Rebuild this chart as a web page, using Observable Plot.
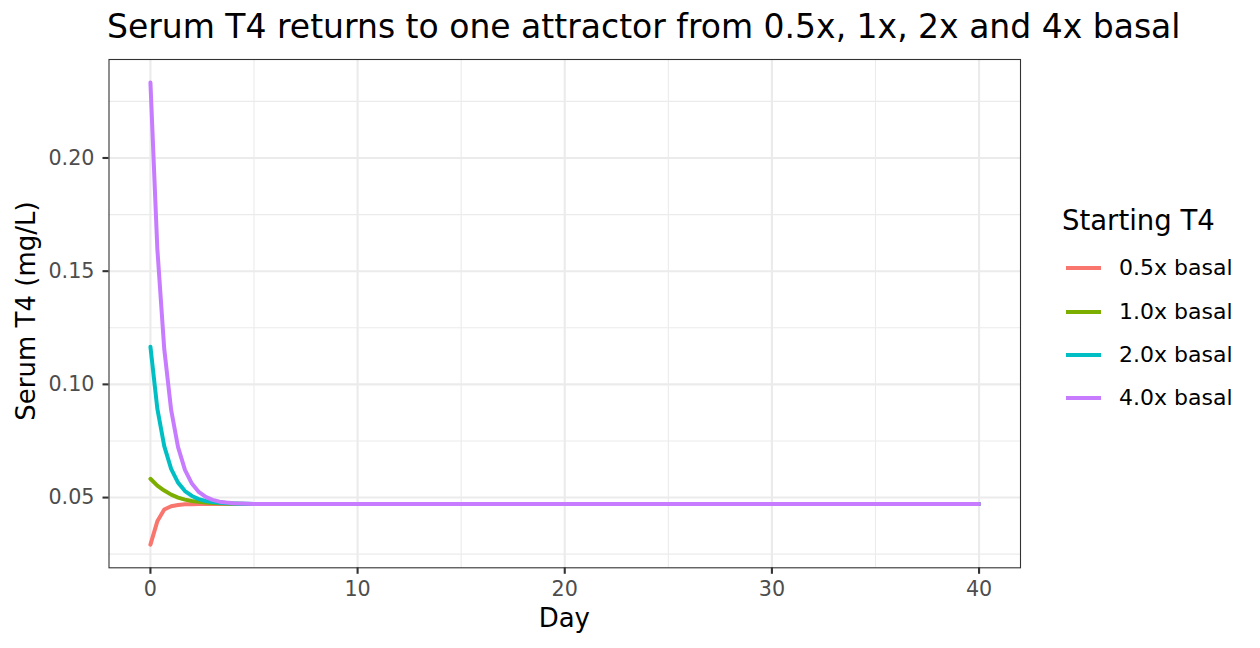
<!DOCTYPE html>
<html>
<head>
<meta charset="utf-8">
<script src="https://cdn.jsdelivr.net/npm/d3@7"></script>
<script src="https://cdn.jsdelivr.net/npm/@observablehq/plot@0.6"></script>
<style>
  html, body { margin: 0; padding: 0; background: #fff; }
  #wrap { position: relative; width: 1260px; height: 648px; font-family: "DejaVu Sans", sans-serif; }
  .abs { position: absolute; white-space: nowrap; line-height: 1; color: #000; }
  .key { position: absolute; height: 4px; width: 35px; }
</style>
</head>
<body>
<div id="wrap"></div>
<script>
const days = [0, 0.333, 0.667, 1, 1.333, 1.667, 2, 2.333, 2.667, 3, 3.333, 3.667, 4, 4.333, 4.667, 5, 6, 8, 10, 15, 20, 25, 30, 35, 40];
const series = ["0.5x basal", "1.0x basal", "2.0x basal", "4.0x basal"];
const colors = ["#F8766D", "#7CAE00", "#00BFC4", "#C77CFF"];
const t4Half = [0.0292, 0.0395, 0.0447, 0.0462, 0.0467, 0.0470, 0.0471, 0.0472, 0.0472, 0.0472, 0.0472, 0.0472, 0.0472, 0.0472, 0.0472, 0.0472, 0.0472, 0.0472, 0.0472, 0.0472, 0.0472, 0.0472, 0.0472, 0.0472, 0.0472];
const t4One  = [0.0583, 0.0553, 0.0531, 0.0513, 0.0500, 0.0491, 0.0485, 0.0481, 0.0478, 0.0476, 0.0475, 0.0474, 0.0473, 0.0473, 0.0472, 0.0472, 0.0472, 0.0472, 0.0472, 0.0472, 0.0472, 0.0472, 0.0472, 0.0472, 0.0472];
const t4Two  = [0.1166, 0.0893, 0.0727, 0.0627, 0.0566, 0.0529, 0.0507, 0.0493, 0.0485, 0.0480, 0.0477, 0.0475, 0.0474, 0.0473, 0.0473, 0.0472, 0.0472, 0.0472, 0.0472, 0.0472, 0.0472, 0.0472, 0.0472, 0.0472, 0.0472];
const t4Four = [0.2333, 0.1599, 0.1156, 0.0887, 0.0723, 0.0622, 0.0562, 0.0525, 0.0503, 0.0490, 0.0482, 0.0478, 0.0475, 0.0474, 0.0473, 0.0472, 0.0472, 0.0472, 0.0472, 0.0472, 0.0472, 0.0472, 0.0472, 0.0472, 0.0472];
const xTicks = [0, 10, 20, 30, 40];
const xMinor = [5, 15, 25, 35];
const yTicks = [0.05, 0.10, 0.15, 0.20];
const yMinor = [0.025, 0.075, 0.125, 0.175, 0.225];

const values = [t4Half, t4One, t4Two, t4Four];
const rows = [];
series.forEach((s, i) => days.forEach((d, j) => rows.push({day: d, t4: values[i][j], start: s})));

const chart = Plot.plot({
  width: 1260,
  height: 648,
  marginLeft: 108.5,
  marginRight: 240,
  marginTop: 59,
  marginBottom: 80.7,
  style: {fontFamily: "DejaVu Sans, sans-serif", background: "#fff", overflow: "visible"},
  x: {domain: [-2, 42], label: null},
  y: {domain: [0.01898, 0.2435], label: null},
  color: {domain: series, range: colors},
  marks: [
    Plot.gridX(xMinor, {stroke: "#EBEBEB", strokeOpacity: 1, strokeWidth: 1.1}),
    Plot.gridY(yMinor, {stroke: "#EBEBEB", strokeOpacity: 1, strokeWidth: 1.1}),
    Plot.gridX(xTicks, {stroke: "#EBEBEB", strokeOpacity: 1, strokeWidth: 2.1}),
    Plot.gridY(yTicks, {stroke: "#EBEBEB", strokeOpacity: 1, strokeWidth: 2.1}),
    Plot.line(rows, {x: "day", y: "t4", stroke: "start", z: "start", strokeWidth: 4, strokeLinejoin: "round"}),
    Plot.frame({stroke: "#333333", strokeWidth: 1.1}),
    Plot.axisX(xTicks, {tickSize: 6.5, tickPadding: 7.2, stroke: "#333333", strokeWidth: 2.1, fill: "#4D4D4D", fontSize: 20.7, label: null}),
    Plot.axisY(yTicks, {tickSize: 6, tickPadding: 8.5, stroke: "#333333", strokeWidth: 2.1, fill: "#4D4D4D", fontSize: 20.7, tickFormat: d3.format(".2f"), label: null})
  ]
});

const wrap = document.getElementById("wrap");
wrap.appendChild(chart);

function addText(txt, left, top, size, extra) {
  const el = document.createElement("div");
  el.className = "abs";
  el.textContent = txt;
  el.style.left = left + "px";
  el.style.top = top + "px";
  el.style.fontSize = size + "px";
  if (extra) Object.assign(el.style, extra);
  wrap.appendChild(el);
  return el;
}

// Title
addText("Serum T4 returns to one attractor from 0.5x, 1x, 2x and 4x basal", 107, 38 - 0.846 * 33, 33);
// X axis title
const xt = addText("Day", 0, 627.3 - 0.846 * 26, 26);
xt.style.left = (564.3 - xt.getBoundingClientRect().width / 2) + "px";
// Y axis title (rotated)
const yt = addText("Serum T4 (mg/L)", 0, 0, 26, {transformOrigin: "0 0"});
const yw = yt.getBoundingClientRect().width;
yt.style.transform = `translate(${34.5 - 0.846 * 26}px, ${311 + yw / 2}px) rotate(-90deg)`;

// Legend
addText("Starting T4", 1062, 230 - 0.846 * 27.5, 27.5);
const keyY = [268.3, 311.7, 355, 398.3];
series.forEach((s, i) => {
  const k = document.createElement("div");
  k.className = "key";
  k.style.left = "1066px";
  k.style.top = (keyY[i] - 2) + "px";
  k.style.background = colors[i];
  wrap.appendChild(k);
  addText(s, 1119, keyY[i] + 7.8 - 0.846 * 22, 22);
});
</script>
</body>
</html>
